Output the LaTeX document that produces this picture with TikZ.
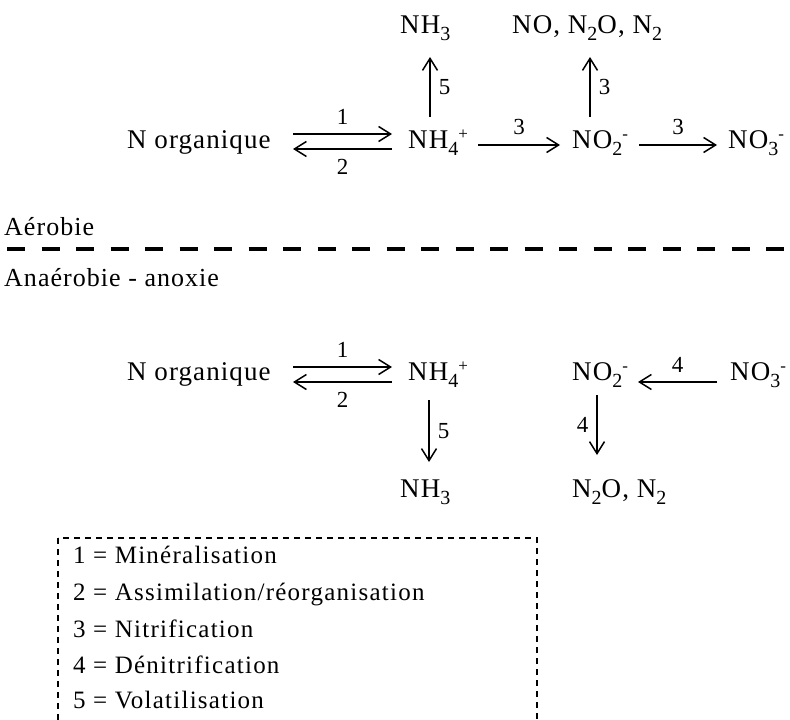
\documentclass[tikz,border=0pt]{standalone}
\usepackage{fontspec}
\setmainfont{Liberation Serif}[LetterSpace=5]
\newfontfamily\widefont{Liberation Serif}[LetterSpace=4]
\newfontfamily\zonefont{Liberation Serif}[LetterSpace=4]
\usetikzlibrary{arrows.meta}

% chemical formula helpers: lowered index, raised charge
\newcommand{\ind}[1]{\raisebox{-7pt}{\fontsize{20}{20}\selectfont #1}}
\newcommand{\chg}[1]{\raisebox{9pt}{\fontsize{17}{17}\selectfont #1}}

\tikzset{
  species/.style={anchor=base west, inner sep=0pt, font=\widefont\fontsize{27}{30}\selectfont},
  zone/.style={anchor=base west, inner sep=0pt, font=\zonefont\fontsize{26}{30}\selectfont},
  num/.style={inner sep=0pt, font=\fontsize{23}{26}\selectfont},
  flux/.style={line width=1.5pt, -{Straight Barb[length=12pt,width=15pt,line width=1.5pt]}},
  legendline/.style={anchor=base west, inner sep=0pt, font=\fontsize{25}{30}\selectfont},
}

\begin{document}
\begin{tikzpicture}[x=1pt, y=-1pt]
\useasboundingbox (0,0) rectangle (790,720);

% ---------- aerobic conditions ----------
\node[species] (norgA) at (127,148) {N organique};
\node[species] (nh4A)  at (408,148) {NH\ind{4}\chg{+}};
\node[species] (no2A)  at (572,148) {NO\ind{2}\chg{-}};
\node[species] (no3A)  at (728,148) {NO\ind{3}\chg{-}};
\node[species] (nh3A)  at (400,33)  {NH\ind{3}};
\node[species] (noxA)  at (512,33)  {NO, N\ind{2}O, N\ind{2}};

\draw[flux] ([xshift=166pt,yshift=14pt]norgA.base west) -- ([xshift=-16pt,yshift=14pt]nh4A.base west)
  node[num, midway, above=9pt] (l1A) {1};
\draw[flux] ([xshift=-16pt,yshift=-1pt]nh4A.base west) -- ([xshift=166pt,yshift=-1pt]norgA.base west)
  node[num, midway, below=10pt] (l2A) {2};
\draw[flux] ([xshift=70pt,yshift=3pt]nh4A.base west) -- ([xshift=-12pt,yshift=3pt]no2A.base west)
  node[num, midway, above=10pt] (l3A) {3};
\draw[flux] ([xshift=67pt,yshift=3pt]no2A.base west) -- ([xshift=-11pt,yshift=3pt]no3A.base west)
  node[num, midway, above=10pt] (l3B) {3};
\draw[flux] ([xshift=22pt,yshift=31pt]nh4A.base west) -- ([xshift=30pt,yshift=-24pt]nh3A.base west)
  node[num, midway, right=8pt] (l5A) {5};
\draw[flux] ([xshift=18pt,yshift=31pt]no2A.base west) -- ([xshift=78pt,yshift=-24pt]noxA.base west)
  node[num, midway, right=8pt] (l3C) {3};

% ---------- boundary between zones ----------
\node[zone] (aero) at (4,235) {Aérobie};
\node[zone] (anae) at (4,286) {Anaérobie - anoxie};
\coordinate (limL) at (7,249);
\coordinate (limR) at (790,249);
\draw[line width=4pt, dash pattern=on 18pt off 16.5pt] (limL) -- (limR);

% ---------- anaerobic conditions ----------
\node[species] (norgB) at (127,380) {N organique};
\node[species] (nh4B)  at (408,380) {NH\ind{4}\chg{+}};
\node[species] (no2B)  at (572,380) {NO\ind{2}\chg{-}};
\node[species] (no3B)  at (730,380) {NO\ind{3}\chg{-}};
\node[species] (nh3B)  at (400,497) {NH\ind{3}};
\node[species] (n2oB)  at (572,497) {N\ind{2}O, N\ind{2}};

\draw[flux] ([xshift=166pt,yshift=13pt]norgB.base west) -- ([xshift=-16pt,yshift=13pt]nh4B.base west)
  node[num, midway, above=9pt] (l1B) {1};
\draw[flux] ([xshift=-16pt,yshift=-2pt]nh4B.base west) -- ([xshift=166pt,yshift=-2pt]norgB.base west)
  node[num, midway, below=10pt] (l2B) {2};
\draw[flux] ([xshift=21pt,yshift=-20pt]nh4B.base west) -- ([xshift=29pt,yshift=35pt]nh3B.base west)
  node[num, midway, right=8pt] (l5B) {5};
\draw[flux] ([xshift=-13pt,yshift=-2pt]no3B.base west) -- ([xshift=66pt,yshift=-2pt]no2B.base west)
  node[num, midway, above=9pt] (l4A) {4};
\draw[flux] ([xshift=25pt,yshift=-15pt]no2B.base west) -- ([xshift=25pt,yshift=42pt]n2oB.base west)
  node[num, midway, left=8pt] (l4B) {4};

% ---------- legend ----------
\coordinate (boxNW) at (58,538);
\coordinate (boxSE) at (537,730);
\draw[line width=1.5pt, dash pattern=on 6pt off 5pt] (boxNW) rectangle (boxSE);
\node[legendline] (k1) at (73,563) {1 = Minéralisation};
\node[legendline] (k2) at (73,600) {2 = Assimilation/réorganisation};
\node[legendline] (k3) at (73,637) {3 = Nitrification};
\node[legendline] (k4) at (73,673) {4 = Dénitrification};
\node[legendline] (k5) at (73,708) {5 = Volatilisation};
\end{tikzpicture}
\end{document}
